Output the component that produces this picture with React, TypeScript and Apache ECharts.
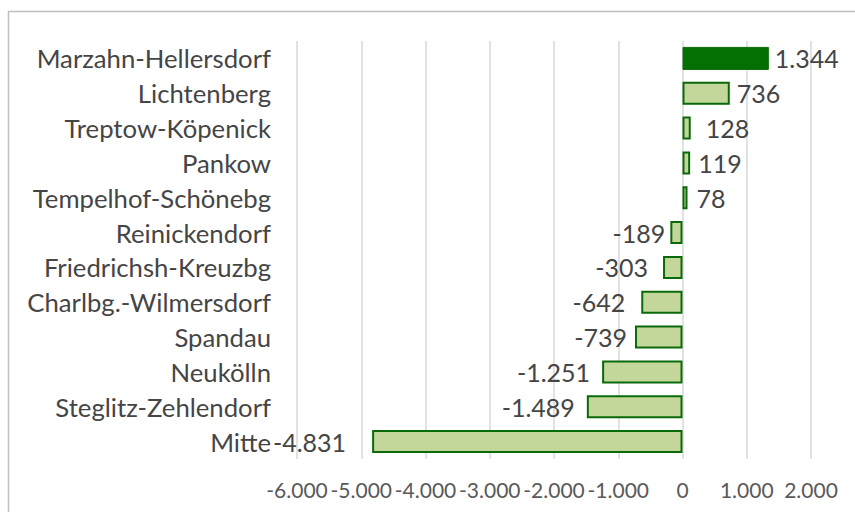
import React, { useEffect, useRef } from "react";
import * as echarts from "echarts";

const categories = [
  "Marzahn-Hellersdorf",
  "Lichtenberg",
  "Treptow-Köpenick",
  "Pankow",
  "Tempelhof-Schönebg",
  "Reinickendorf",
  "Friedrichsh-Kreuzbg",
  "Charlbg.-Wilmersdorf",
  "Spandau",
  "Neukölln",
  "Steglitz-Zehlendorf",
  "Mitte",
];
const values = [1344, 736, 128, 119, 78, -189, -303, -642, -739, -1251, -1489, -4831];
const xTicks = { min: -6000, max: 2000, interval: 1000 };

// label gaps (px) between bar end and label, per row (styling)
const labelGaps = [6, 7, 15, 8, 9, 5, 15, 16, 8, 12, 12, 26];
const highlightIndex = 0;

const fmt = (v: number) => {
  const s = Math.abs(v).toString().replace(/\B(?=(\d{3})+(?!\d))/g, ".");
  return (v < 0 ? "-" : "") + s;
};

const FONT = "Lato";

export default function App() {
  const ref = useRef<HTMLDivElement>(null);
  useEffect(() => {
    if (!ref.current) return;
    const chart = echarts.init(ref.current, undefined, { renderer: "svg" });
    const data = values.map((v, i) => ({
      value: v,
      itemStyle:
        i === highlightIndex
          ? { color: "#037003", borderColor: "#0b6b0b", borderWidth: 1 }
          : { color: "#c4d79b", borderColor: "#0a6a0a", borderWidth: 2 },
      label: {
        position: v >= 0 ? "right" : "left",
        distance: labelGaps[i],
      },
    }));
    chart.setOption({
      animation: false,
      backgroundColor: "#ffffff",
      graphic: [
        {
          type: "rect",
          shape: { x: 8.5, y: 11.5, width: 900, height: 600 },
          style: { fill: "none", stroke: "#bfbfbf", lineWidth: 1.5 },
          silent: true,
        },
      ],
      grid: { left: 297, right: 44, top: 41, bottom: 53, containLabel: false },
      xAxis: {
        type: "value",
        min: xTicks.min,
        max: xTicks.max,
        interval: xTicks.interval,
        axisLine: { show: false },
        axisTick: { show: false },
        splitLine: { show: true, lineStyle: { color: "#d9d9d9", width: 1.5 } },
        axisLabel: {
          formatter: (v: number) => fmt(v),
          fontFamily: FONT,
          fontSize: 21,
          color: "#595959",
          margin: 20,
        },
      },
      yAxis: {
        type: "category",
        data: categories,
        inverse: true,
        axisLine: { show: false },
        axisTick: { show: false },
        axisLabel: {
          fontFamily: FONT,
          fontSize: 25.7,
          color: "#454545",
          margin: 26,
        },
      },
      series: [
        {
          type: "bar",
          data,
          barCategoryGap: "34%",
          label: {
            show: true,
            formatter: (p: any) => fmt(p.value),
            fontFamily: FONT,
            fontSize: 25,
            color: "#454545",
          },
        },
      ],
    });
    return () => chart.dispose();
  }, []);
  return (
    <div
      ref={ref}
      style={{ position: "absolute", left: 0, top: 0, width: 855, height: 512 }}
    />
  );
}
